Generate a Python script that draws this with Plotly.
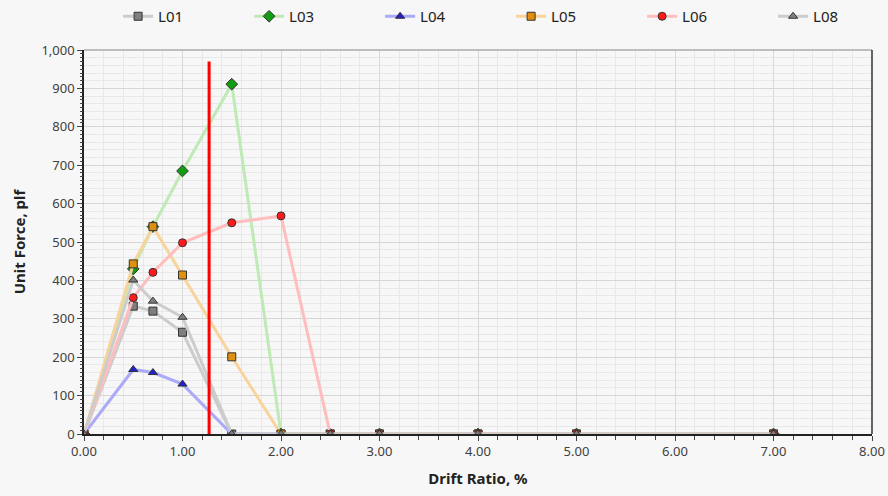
import plotly.graph_objects as go

drift = [0.0, 0.5, 0.7, 1.0, 1.5, 2.0, 2.5, 3.0, 4.0, 5.0, 7.0]
L01 = [0, 333, 320, 265, 0, 0, 0, 0, 0, 0, 0]
L03 = [0, 430, 540, 685, 911, 0, 0, 0, 0, 0, 0]
L04 = [0, 168, 160, 130, 0, 0, 0, 0, 0, 0, 0]
L05 = [0, 443, 540, 414, 201, 0, 0, 0, 0, 0, 0]
L06 = [0, 355, 421, 498, 550, 568, 0, 0, 0, 0, 0]
L08 = [0, 401, 346, 304, 0, 0, 0, 0, 0, 0, 0]
ref_x = [1.27, 1.27]
ref_y = [0, 970]

series = [
    ("L01", L01, "#cccccc", "#7f7f7f", "square"),
    ("L03", L03, "#bfeab5", "#119c11", "diamond"),
    ("L04", L04, "#aaaaf8", "#2222cc", "triangle-up"),
    ("L05", L05, "#f8d49a", "#e0900f", "square"),
    ("L06", L06, "#ffbdbd", "#ff1a1a", "circle"),
    ("L08", L08, "#cccccc", "#7f7f7f", "triangle-up"),
]

fig = go.Figure()
for name, ys, lc, mc, sym in series:
    fig.add_trace(go.Scatter(
        x=drift, y=ys, name=name, mode="lines+markers",
        line=dict(color=lc, width=3),
        marker=dict(symbol=sym, size=8 if sym != "diamond" else 9, color=mc,
                    line=dict(color="#333333", width=1)),
    ))

fig.add_trace(go.Scatter(x=ref_x, y=ref_y, mode="lines", showlegend=False,
                         line=dict(color="#ff0000", width=3), hoverinfo="skip"))

# invisible trace to carry extra minor ticks on y
fig.add_trace(go.Scatter(x=[0], y=[0], yaxis="y2", showlegend=False,
                         mode="markers", marker=dict(opacity=0), hoverinfo="skip"))

font = "Noto Sans"
fig.update_layout(
    width=888, height=496,
    margin=dict(l=84, r=16, t=50, b=62, autoexpand=False),
    paper_bgcolor="#f7f7f7", plot_bgcolor="#f7f7f7",
    font=dict(family=font, size=13, color="#404040"),
    legend=dict(orientation="h", xref="container", yref="container",
                x=0.133, y=1.0, xanchor="left", yanchor="top",
                entrywidth=86, font=dict(size=15, color="#222222"),
                bgcolor="rgba(0,0,0,0)", itemwidth=30),
    xaxis=dict(range=[0, 8], dtick=1, tickformat=".2f",
               showgrid=True, gridcolor="#d9d9d9", gridwidth=1,
               showline=True, linecolor="#222222", linewidth=1.5,
               mirror=False, zeroline=False,
               ticks="outside", ticklen=5, tickcolor="#444444",
               minor=dict(dtick=0.2, showgrid=True, gridcolor="#e8e8e8",
                          ticks="outside", ticklen=4, tickcolor="#444444"),
               title=dict(text="<b>Drift Ratio, %</b>", font=dict(size=15, color="#222222"), standoff=14)),
    yaxis=dict(range=[0, 1000], dtick=100, tickformat=",",
               showgrid=True, gridcolor="#d6d6d6", gridwidth=1,
               showline=True, linecolor="#222222", linewidth=1.5,
               zeroline=False,
               ticks="outside", ticklen=5, tickcolor="#444444",
               minor=dict(dtick=20, showgrid=True, gridcolor="#e8e8e8"),
               title=dict(text="<b>Unit Force, plf</b>", font=dict(size=15, color="#222222"), standoff=12)),
    yaxis2=dict(range=[0, 1000], overlaying="y", side="left", showgrid=False,
                showticklabels=False, zeroline=False, showline=False,
                dtick=100, ticks="",
                minor=dict(dtick=10, ticks="outside", ticklen=3, tickcolor="#444444", showgrid=False)),
    shapes=[
        dict(type="line", xref="paper", yref="paper", x0=0, x1=1, y0=1, y1=1,
             line=dict(color="#aaaaaa", width=1.5)),
        dict(type="line", xref="paper", yref="paper", x0=1, x1=1, y0=0, y1=1,
             line=dict(color="#333333", width=1.5)),
    ],
)

fig.write_html("out.html", config={"displayModeBar": False},
               post_script="document.body.style.margin='0';document.body.style.background='#f7f7f7';")
